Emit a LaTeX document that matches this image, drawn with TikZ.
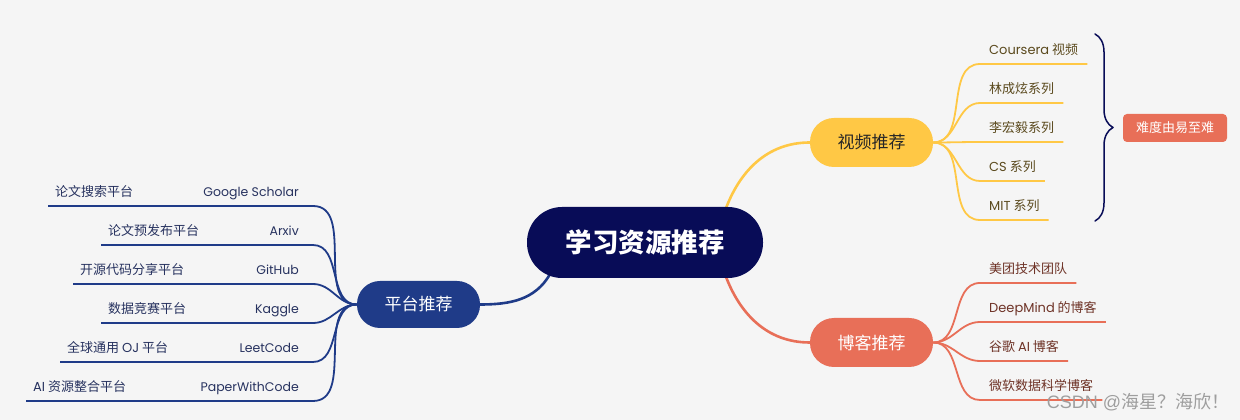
\documentclass[tikz,border=0pt]{standalone}
\usepackage{fontspec}
\setmainfont{Noto Sans CJK SC}
\newfontfamily\lat{Poppins}
\newfontfamily\arial{Liberation Sans}
\usetikzlibrary{decorations.pathreplacing,backgrounds}
\definecolor{fond}{HTML}{F5F5F5}
\definecolor{racine}{HTML}{080C57}
\definecolor{bleu}{HTML}{1F3B88}
\definecolor{jaune}{HTML}{FFC845}
\definecolor{rouge}{HTML}{E86F58}
\definecolor{txtbleu}{HTML}{27325F}
\definecolor{txtjaune}{HTML}{5B4A1E}
\definecolor{txtrouge}{HTML}{6E3327}
\begin{document}
\begin{tikzpicture}[line cap=round,line join=round,x=1pt,y=1pt,
    pill/.style={rounded corners=24pt,minimum width=123pt,minimum height=49pt,inner sep=0pt,font=\fontsize{17pt}{20pt}\selectfont},
    feuille/.style={inner xsep=7pt,inner ysep=9pt,text height=10pt,text depth=0pt,font=\fontsize{13pt}{15pt}\selectfont},
    vfeuille/.style={feuille,anchor=south west,inner xsep=9pt,text=txtjaune},
    bfeuille/.style={feuille,anchor=south west,inner xsep=9pt,text=txtrouge},
    pdesc/.style={feuille,anchor=south west,text=txtbleu},
    pnom/.style={feuille,anchor=south east,inner xsep=14pt,text=txtbleu,font=\lat\fontsize{12.5pt}{15pt}\selectfont},
    branche/.style={line width=2.6pt},
    lien/.style={line width=1.8pt}]
\useasboundingbox (0,0) rectangle (1240,420);
\begin{scope}[on background layer]
\fill[fond] (0,0) rectangle (1240,420);
\end{scope}
% Racine
\node[fill=racine,text=white,rounded corners=35pt,minimum width=236pt,minimum height=71pt,font=\bfseries\fontsize{26.5pt}{30pt}\selectfont] (racine) at (645,177.5) {学习资源推荐};
% Etage 1
\node[pill,fill=jaune,text=black!85] (video) at (871.5,277.5) {视频推荐};
\node[pill,fill=rouge,text=white] (blog) at (871.5,77.5) {博客推荐};
\node[pill,fill=bleu,text=white,minimum height=47pt,rounded corners=23pt] (plat) at (418.5,115.5) {平台推荐};
% Etage 2 : videos
\node[vfeuille] (v1) at (980,356) {{\lat Coursera} 视频};
\node[vfeuille] (v2) at (980,317) {林成炫系列};
\node[vfeuille] (v3) at (980,278) {李宏毅系列};
\node[vfeuille] (v4) at (980,239) {{\lat CS} 系列};
\node[vfeuille] (v5) at (980,200) {{\lat MIT} 系列};
% Etage 2 : blogs
\node[bfeuille] (b1) at (980,137) {美团技术团队};
\node[bfeuille] (b2) at (980,98) {{\lat DeepMind} 的博客};
\node[bfeuille] (b3) at (980,59) {谷歌 {\lat AI} 博客};
\node[bfeuille] (b4) at (980,20) {微软数据科学博客};
% Etage 2 : plateformes
\node[pnom] (p1) at (313,214) {Google Scholar};
\node[pnom] (p2) at (313,175) {Arxiv};
\node[pnom] (p3) at (313,136) {GitHub};
\node[pnom] (p4) at (313,97) {Kaggle};
\node[pnom] (p5) at (313,58) {LeetCode};
\node[pnom] (p6) at (313,19) {PaperWithCode};
\node[pdesc] (d1) at (48,214) {论文搜索平台};
\node[pdesc] (d2) at (101,175) {论文预发布平台};
\node[pdesc] (d3) at (73,136) {开源代码分享平台};
\node[pdesc] (d4) at (101,97) {数据竞赛平台};
\node[pdesc] (d5) at (60,58) {全球通用 {\lat OJ} 平台};
\node[pdesc] (d6) at (26,19) {{\lat AI} 资源整合平台};
% accolade
\coordinate (haut) at (1095,386);
\coordinate (bas) at (1095,199);
\node[fill=rouge,text=white,rounded corners=4pt,minimum width=104pt,minimum height=28pt,inner sep=0pt,font=\fontsize{13pt}{15pt}\selectfont] (niveau) at (1175,292) {难度由易至难};
\draw[racine,line width=1.5pt,decorate,decoration={brace,amplitude=18pt}] (haut) -- (bas);
% filigrane
\node[text=black!38,font=\fontsize{18pt}{21pt}\selectfont] (csdn) at (1138,18) {{\arial CSDN @}海星？海欣！};
% liens
\begin{scope}[on background layer]
\draw[branche,jaune] ([xshift=80pt,yshift=-4pt]racine.north) to[out=70,in=180] (video.west);
\draw[branche,rouge] ([xshift=80pt,yshift=4pt]racine.south) to[out=-70,in=180] (blog.west);
\draw[branche,bleu] ([xshift=-95pt,yshift=4pt]racine.south) to[out=-120,in=0] (plat.east);
\draw[lien,jaune] (video.east) to[out=0,in=180] (v1.south west) -- (v1.south east);
\draw[lien,jaune] (video.east) to[out=0,in=180] (v2.south west) -- (v2.south east);
\draw[lien,jaune] (video.east) to[out=0,in=180] (v3.south west) -- (v3.south east);
\draw[lien,jaune] (video.east) to[out=0,in=180] (v4.south west) -- (v4.south east);
\draw[lien,jaune] (video.east) to[out=0,in=180] (v5.south west) -- (v5.south east);
\draw[lien,rouge] (blog.east) to[out=0,in=180] (b1.south west) -- (b1.south east);
\draw[lien,rouge] (blog.east) to[out=0,in=180] (b2.south west) -- (b2.south east);
\draw[lien,rouge] (blog.east) to[out=0,in=180] (b3.south west) -- (b3.south east);
\draw[lien,rouge] (blog.east) to[out=0,in=180] (b4.south west) -- (b4.south east);
\draw[lien,bleu] (plat.west) to[out=180,in=0] (p1.south east) -- (d1.south west);
\draw[lien,bleu] (plat.west) to[out=180,in=0] (p2.south east) -- (d2.south west);
\draw[lien,bleu] (plat.west) to[out=180,in=0] (p3.south east) -- (d3.south west);
\draw[lien,bleu] (plat.west) to[out=180,in=0] (p4.south east) -- (d4.south west);
\draw[lien,bleu] (plat.west) to[out=180,in=0] (p5.south east) -- (d5.south west);
\draw[lien,bleu] (plat.west) to[out=180,in=0] (p6.south east) -- (d6.south west);
\end{scope}
\end{tikzpicture}
\end{document}
